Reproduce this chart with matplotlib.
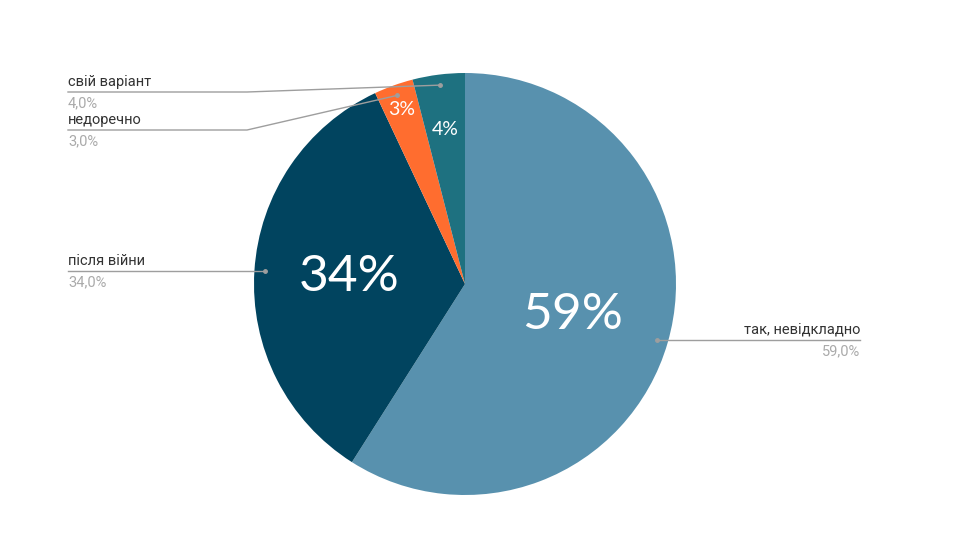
import numpy as np
import matplotlib
matplotlib.use('Agg')
import matplotlib.pyplot as plt

# Data (clockwise from top)
labels = ['так, невідкладно', 'після війни', 'недоречно', 'свій варіант']
values = [59.0, 34.0, 3.0, 4.0]
colors = ['#5891ae', '#01445f', '#ff6d2f', '#1e7180']
pct_dist = [0.53, 0.55, 0.88, 0.74]
pct_size = [37, 37, 14, 14]

# label anchor: (text x, line y, align, bend x)
label_pos = {
    'так, невідкладно': (860, 200, 'right', None),
    'після війни': (68, 269, 'left', None),
    'недоречно': (68, 410, 'left', 247),
    'свій варіант': (68, 448, 'left', 247),
}

fig = plt.figure(figsize=(9.6, 5.4), dpi=100)
ax = fig.add_axes([0, 0, 1, 1])

cx, cy, r = 465, 256, 211
wedges, _ = ax.pie(values, colors=colors, startangle=90, counterclock=False,
                   center=(cx, cy), radius=r, frame=True,
                   wedgeprops=dict(linewidth=0))
ax.set_xlim(0, 960)
ax.set_ylim(0, 540)
ax.set_aspect('equal')
ax.axis('off')

for w, lab, v, d, fs in zip(wedges, labels, values, pct_dist, pct_size):
    mid = np.deg2rad((w.theta1 + w.theta2) / 2)
    px, py = cx + d * r * np.cos(mid), cy + d * r * np.sin(mid)
    ax.text(px, py, f'{v:.0f}%', color='white', fontsize=fs, family='Lato',
            ha='center', va='center')

    # leader line
    dx, dy = cx + 0.95 * r * np.cos(mid), cy + 0.95 * r * np.sin(mid)
    tx, ly, align, bend = label_pos[lab]
    ax.plot([dx], [dy], 'o', color='#9e9e9e', ms=2.5, zorder=5)
    if bend is None:
        ax.plot([dx, tx], [ly, ly], color='#9e9e9e', lw=1)
    else:
        ax.plot([dx, bend, tx], [dy, ly, ly], color='#9e9e9e', lw=1)
    ax.text(tx, ly + 3, lab, ha=align, va='bottom', fontsize=10.5,
            color='#333333', family='Roboto')
    ax.text(tx, ly - 4, f'{v:.1f}%'.replace('.', ','), ha=align, va='top',
            fontsize=10.5, color='#aaaaaa', family='Roboto')

fig.savefig('out.png', dpi=100)
